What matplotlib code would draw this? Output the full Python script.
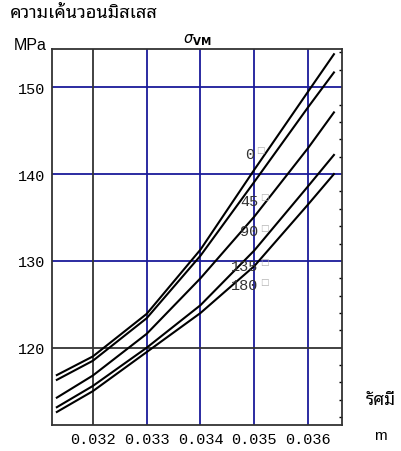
import matplotlib
matplotlib.use('Agg')
import matplotlib.pyplot as plt
from matplotlib import font_manager
from matplotlib.ticker import MultipleLocator, FixedLocator

radius = [0.03133, 0.032, 0.033, 0.034, 0.035, 0.036, 0.03648]

# von Mises stress (MPa) for each angle
s_0 = [116.85, 119.0, 123.9, 131.3, 140.5, 149.5, 153.8]
s_45 = [116.3, 118.5, 123.4, 130.6, 139.1, 147.7, 151.7]
s_90 = [114.25, 116.8, 121.6, 128.0, 135.1, 143.0, 147.1]
s_135 = [113.15, 115.6, 120.0, 124.9, 131.2, 138.6, 142.2]
s_180 = [112.6, 115.0, 119.5, 124.0, 129.4, 136.5, 140.0]

angle_labels = ['0', '45', '90', '135', '180']
# where the angle labels sit (data coords, right edge)
label_x = [0.03500, 0.03507, 0.03507, 0.03507, 0.03507]
label_y = [142.35, 136.9, 133.4, 129.4, 127.2]

x_ticks = [0.032, 0.033, 0.034, 0.035, 0.036]
y_ticks = [120, 130, 140, 150]

# Thai font
names = set(f.name for f in font_manager.fontManager.ttflist)
thai = 'DejaVu Sans'
for cand in ['Noto Sans Thai Looped', 'Noto Sans Thai', 'Tahoma', 'Loma', 'Sarabun', 'Athiti']:
    if cand in names:
        thai = cand
        break
mono = 'Liberation Mono' if 'Liberation Mono' in names else 'DejaVu Sans Mono'

fig = plt.figure(figsize=(4.01, 4.52), dpi=100)
ax = fig.add_axes([52 / 401, 1 - 426 / 452, 290 / 401, 376 / 452])

ax.set_xlim(0.03124, 0.03663)
ax.set_ylim(111.1, 154.4)

# grid (blue) and axes through (0.032, 120) in black
for xv in x_ticks[1:]:
    ax.axvline(xv, color='#1a1a9a', lw=1.3, zorder=1)
for yv in y_ticks[1:]:
    ax.axhline(yv, color='#1a1a9a', lw=1.3, zorder=1)
ax.axvline(x_ticks[0], color='#333333', lw=1.3, zorder=1)
ax.axhline(y_ticks[0], color='#333333', lw=1.3, zorder=1)

for ys in [s_0, s_45, s_90, s_135, s_180]:
    ax.plot(radius, ys, color='black', lw=1.5, zorder=3)

for lab, lx, ly in zip(angle_labels, label_x, label_y):
    ax.text(lx, ly, lab, fontsize=11, family=mono, ha='right', va='center',
            color='#333333', zorder=4)
    ax.annotate('□', xy=(lx, ly), xytext=(1.5, 3), textcoords='offset points',
                fontsize=6.5, color='#b0b0b0', ha='left', va='center', zorder=4)

ax.xaxis.set_major_locator(FixedLocator(x_ticks))
ax.yaxis.set_major_locator(FixedLocator(y_ticks))
ax.set_xticklabels(['%.3f' % v for v in x_ticks], family=mono, fontsize=11)
ax.set_yticklabels(['%d' % v for v in y_ticks], family=mono, fontsize=11)
ax.tick_params(axis='both', length=0, pad=5)
ax.yaxis.set_minor_locator(MultipleLocator(2))
ax.tick_params(axis='y', which='minor', left=False, right=True, direction='in', length=2.5, width=1)

for sp in ax.spines.values():
    sp.set_linewidth(1.3)
    sp.set_color('#333333')

ax.set_title(r'$\sigma_{\mathbf{VM}}$', fontsize=10.5, pad=5)

fig.text(10 / 401, 1 - 13 / 452, 'ความเค้นวอนมิสเสส', family=[thai, 'DejaVu Sans'],
         fontsize=13, va='center', ha='left')
fig.text(14 / 401, 1 - 46 / 452, 'MPa', family='Liberation Sans', fontsize=11.5,
         va='center', ha='left')
fig.text(366 / 401, 1 - 400 / 452, 'รัศมี', family=[thai, 'DejaVu Sans'],
         fontsize=12.5, va='center', ha='left')
fig.text(374 / 401, 1 - 436 / 452, 'm', family='Liberation Sans', fontsize=11,
         va='center', ha='left')

fig.savefig('out.png', dpi=100)
